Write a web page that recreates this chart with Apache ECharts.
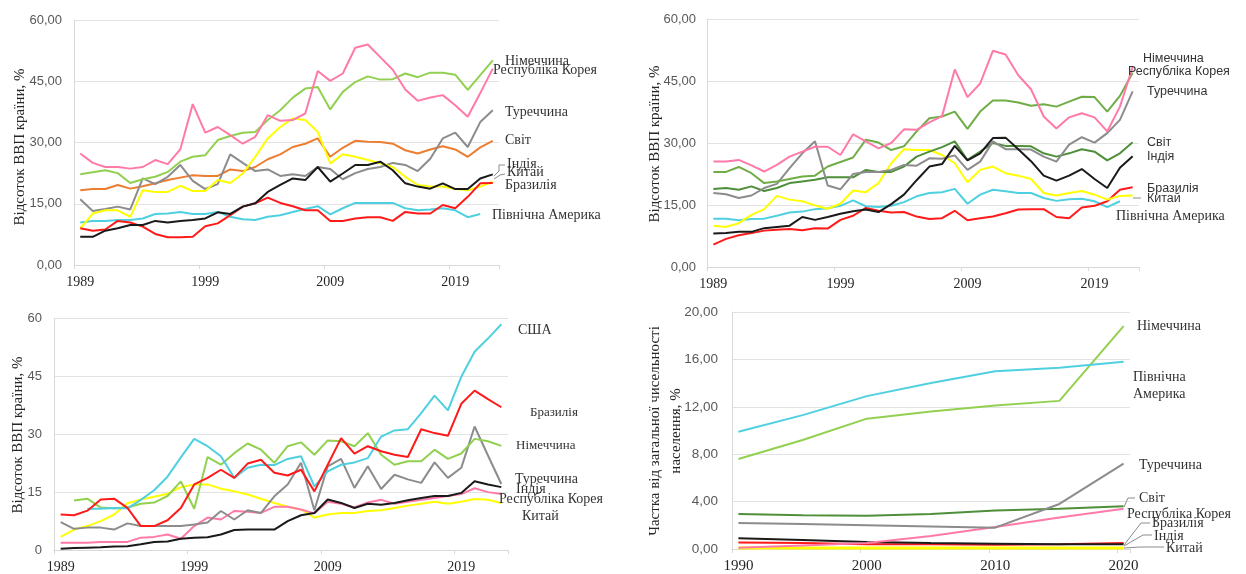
<!DOCTYPE html>
<html><head><meta charset="utf-8">
<script src="https://cdn.jsdelivr.net/npm/echarts@6/dist/echarts.min.js"></script>
<style>html,body{margin:0;padding:0;background:#fff}#c{width:1246px;height:574px}</style>
</head><body><div id="c"></div>
<script>
// ---------- categories / ticks ----------
const years = ['1989','1990','1991','1992','1993','1994','1995','1996','1997','1998','1999','2000','2001','2002','2003','2004','2005','2006','2007','2008','2009','2010','2011','2012','2013','2014','2015','2016','2017','2018','2019','2020','2021','2022'];
const brCategories = ['1990','1991','1992','1993','1994','1995','1996','1997','1998','1999','2000','2001','2002','2003','2004','2005','2006','2007','2008','2009','2010','2011','2012','2013','2014','2015','2016','2017','2018','2019','2020'];
const brPoints = ['1990','1995','2000','2005','2010','2015','2020'];

// ---------- top-left panel (exports, % GDP) ----------
const tlKorea   = [27.3,25.0,24.0,24.0,23.6,24.0,25.7,24.7,28.3,39.4, 32.4,33.8,31.8,29.7,31.4,36.7,35.3,35.5,37.1,47.5, 45.1,46.9,53.2,54.0,50.9,47.8,43.0,40.2,41.0,41.6, 39.1,36.3,42.1,48.1];
const tlGermany = [22.2,22.7,23.2,22.5,20.1,21.0,21.6,22.8,25.3,26.5, 26.9,30.6,31.6,32.4,32.6,35.5,37.9,41.0,43.2,43.6, 38.1,42.4,44.8,46.2,45.4,45.5,46.9,46.0,47.1,47.1, 46.6,42.9,46.5,50.1];
const tlTurkey  = [16.1,13.2,13.7,14.3,13.6,21.2,19.8,21.6,24.5,20.6, 18.6,19.8,27.1,25.0,23.0,23.4,21.8,22.2,21.8,24.0, 23.5,21.0,22.5,23.5,24.0,25.0,24.5,23.0,26.0,31.0, 32.4,28.9,35.0,37.9];
const tlWorld   = [18.3,18.6,18.6,19.6,18.7,19.3,20.0,20.8,21.4,22.0, 21.8,21.8,23.4,23.0,24.0,25.9,27.1,28.9,29.7,31.0, 26.5,28.7,30.4,30.2,30.1,29.7,28.1,27.3,28.3,29.1, 28.3,26.5,28.8,30.4];
const tlChina   = [9.0,12.6,13.4,13.4,11.8,18.3,17.9,17.9,19.4,18.1, 18.1,20.8,20.1,22.4,26.5,31.0,33.8,35.9,35.5,32.6, 24.9,27.1,26.5,25.7,24.9,24.0,21.6,19.6,19.2,19.2, 18.6,18.3,19.2,20.4];
const tlIndia   = [6.9,6.9,8.4,9.0,9.8,9.8,10.8,10.4,10.8,11.0, 11.4,12.9,12.5,14.3,15.1,17.9,19.6,21.2,20.8,24.0, 20.4,22.4,24.5,24.5,25.3,23.2,20.0,19.2,18.7,20.0, 18.6,18.6,21.2,22.2];
const tlBrazil  = [9.0,8.4,8.7,10.8,10.4,9.4,7.6,6.8,6.8,6.9, 9.5,10.2,12.2,14.3,15.1,16.5,15.2,14.4,13.4,13.4, 10.8,10.8,11.4,11.7,11.7,10.8,13.0,12.6,12.6,14.7, 13.9,16.7,20.0,20.1];
const tlNorthAm = [10.4,10.8,10.8,11.0,11.0,11.4,12.5,12.6,13.0,12.5, 12.5,13.0,11.8,11.2,11.0,11.8,12.2,13.0,13.7,14.4, 12.4,13.9,15.2,15.2,15.2,15.2,13.9,13.4,13.6,13.9, 13.4,11.7,12.5,null];

// ---------- top-right panel (imports, % GDP) ----------
const trKorea   = [25.5,25.5,25.9,24.6,23.1,24.7,26.7,27.9,29.1,29.1, 27.1,32.1,30.4,28.7,30.0,33.3,33.2,35.0,36.5,47.8, 41.1,44.4,52.3,51.4,46.4,43.0,36.4,33.5,36.2,37.2, 36.2,32.8,38.8,48.4];
const trGermany = [23.0,23.0,24.2,22.7,20.3,20.7,21.3,21.9,22.1,24.3, 25.4,26.5,30.8,30.1,28.3,29.2,32.8,36.0,36.4,37.6, 33.4,37.6,40.3,40.3,39.8,39.0,39.4,38.8,40.0,41.2, 41.1,37.6,41.4,47.0];
const trTurkey  = [17.9,17.6,16.7,17.3,19.1,20.1,23.9,27.5,30.4,19.7, 18.8,22.5,23.0,23.0,23.5,24.7,24.5,26.3,26.2,27.0, 23.5,25.5,30.4,28.5,28.5,28.4,26.7,25.5,29.6,31.4, 30.1,32.4,35.6,42.5];
const trWorld   = [18.9,19.1,18.7,19.5,18.4,19.1,20.3,20.7,21.1,21.7, 21.7,21.7,23.5,23.0,23.0,24.3,26.7,27.9,29.0,30.4, 25.9,27.9,30.0,29.3,29.3,29.2,27.5,26.7,27.5,28.5, 27.9,25.8,27.5,30.2];
const trIndia   = [8.1,8.2,8.5,8.5,9.4,9.7,10.0,12.1,11.4,12.1, 12.9,13.5,13.9,13.3,15.2,17.5,21.0,24.3,24.9,29.3, 25.8,27.5,31.2,31.3,28.5,25.6,22.1,20.9,22.1,23.7, 21.3,19.1,24.0,26.8];
const trChina   = [10.0,9.7,10.6,12.6,14.0,17.2,16.3,15.9,14.9,14.1, 15.3,18.5,18.1,20.3,25.1,28.5,28.3,28.3,27.1,25.1, 20.5,23.5,24.3,22.7,22.1,21.3,17.9,17.3,17.9,18.4, 17.5,16.3,17.2,17.3];
const trNorthAm = [11.7,11.7,11.3,11.6,11.7,12.4,13.2,13.4,14.0,14.2, 14.8,16.1,14.7,14.5,14.8,15.7,17.1,17.9,18.1,18.9, 15.3,17.5,18.7,18.3,17.9,17.9,16.7,16.0,16.4,16.5, 15.9,14.5,15.9,null];
const trBrazil  = [5.4,6.8,7.7,8.2,8.8,9.0,9.2,8.9,9.4,9.3, 11.4,12.4,14.3,13.6,13.2,13.3,12.2,11.6,11.8,13.6, 11.3,11.8,12.2,13.0,13.9,14.0,14.0,12.1,11.8,14.4, 14.8,15.9,18.7,19.3];

// ---------- bottom-left panel ----------
const blUSA     = [null,null,10.7,10.7,10.9,10.8,13.0,15.5,19.0,24.0, 28.8,26.9,24.3,18.7,21.3,22.1,22.0,23.6,24.3,16.5, 20.4,22.1,22.7,23.8,29.4,31.0,31.3,35.5,40.0,36.2, 44.9,51.4,54.8,58.5];
const blBrazil  = [9.2,9.0,10.2,13.1,13.3,10.9,6.2,6.2,7.7,10.9, 17.0,18.7,20.8,18.7,22.4,23.4,20.0,19.3,20.8,15.2, 22.1,29.0,25.0,26.9,25.6,24.7,24.1,31.3,30.3,29.6, 37.9,41.3,39.1,37.0];
const blGermany = [null,12.8,13.3,11.0,10.8,11.0,12.0,12.3,14.0,17.8, 10.7,24.1,22.1,25.1,27.6,26.0,22.6,26.9,27.9,24.7, 28.4,28.2,26.9,30.3,24.7,22.1,23.0,23.0,26.0,23.6, 25.0,28.8,28.2,27.0];
const blTurkey  = [7.2,5.5,5.8,5.8,5.3,6.9,6.2,6.2,6.2,6.2, 6.6,7.1,10.1,7.9,10.3,9.6,13.9,17.0,22.6,10.3, 21.7,23.6,16.1,21.7,15.8,19.5,18.3,17.4,22.7,18.7, 21.3,32.0,24.5,17.1];
const blIndia   = [0.3,0.5,0.6,0.7,0.9,1.0,1.5,2.1,2.2,2.9, 3.2,3.3,4.0,5.2,5.3,5.3,5.3,7.5,9.0,9.6, 13.1,12.2,10.9,12.0,11.7,12.2,12.9,13.5,14.0,14.0, 14.8,17.8,17.0,16.3];
const blKorea   = [1.9,1.9,1.9,2.1,2.1,2.1,3.2,3.4,4.0,2.9, 6.2,8.4,7.9,10.1,9.9,9.6,11.2,11.2,10.5,9.5, 12.5,12.0,11.0,12.3,13.0,12.0,12.5,13.0,13.5,14.0, 14.5,16.0,15.0,14.5];
const blChina   = [3.4,5.3,6.2,7.5,9.2,12.1,13.1,13.8,14.6,16.3, 17.0,17.0,15.9,15.2,14.4,13.3,12.2,11.2,10.5,8.4, 9.2,9.6,9.6,10.1,10.3,10.9,11.5,12.0,12.5,12.0, 12.5,13.2,13.0,12.2];

// ---------- bottom-right panel (share of population, %) ----------
const brGermany = [7.6,9.2,11.0,11.6,12.1,12.5,18.8];
const brNorthAm = [9.9,11.3,12.9,14.0,15.0,15.3,15.8];
const brTurkey  = [2.2,2.1,2.0,1.9,1.8,3.8,7.2];
const brWorld   = [2.95,2.85,2.8,2.95,3.25,3.4,3.6];
const brKorea   = [0.1,0.3,0.5,1.1,1.85,2.65,3.4];
const brBrazil  = [0.55,0.5,0.4,0.4,0.35,0.4,0.5];
const brIndia   = [0.9,0.75,0.6,0.5,0.45,0.4,0.4];
const brChina   = [0.08,0.08,0.08,0.08,0.08,0.08,0.08];

// ---------- styling ----------
const C = {pink:'#ff7aa8', lgreen:'#92d050', orange:'#ed7d31', gray:'#8c8c8c', yellow:'#ffff00',
  black:'#1a1a1a', red:'#ff1a1a', cyan:'#4fd0e0', mgreen:'#70ad47', dgreen:'#4f8f3a'};
const SERIF = '"Liberation Serif", "Times New Roman", serif';
const SANS = '"Liberation Sans", Arial, sans-serif';

const chart = echarts.init(document.getElementById('c'), null, {renderer:'canvas', width:1246, height:574});

const grids = [
  {left:74, top:20, width:425, height:245},
  {left:707, top:19, width:432, height:248},
  {left:54, top:318.5, width:454, height:232},
  {left:732, top:312, width:398, height:238}
];
function xCat(gi, data, size){
  return {type:'category', gridIndex:gi, data, boundaryGap:true,
    axisLine:{show:true, lineStyle:{color:'#d9d9d9'}},
    axisTick:{show:true, length:4, lineStyle:{color:'#d9d9d9'}},
    axisLabel:{interval:9, margin:10, color:'#262626', fontFamily:SERIF, fontSize:size},
    splitLine:{show:false}};
}
const comma = v => v.toFixed(2).replace('.', ',');
function yVal(gi, max, interval, fmt, margin, size){
  return {type:'value', gridIndex:gi, min:0, max, interval,
    axisLine:{show:true, lineStyle:{color:'#d9d9d9'}}, axisTick:{show:false},
    splitLine:{show:true, lineStyle:{color:'#e2e2e2', width:1}},
    axisLabel:{formatter:fmt, color:'#595959', fontFamily:SANS, fontSize:size, margin}};
}
function ln(data, color, gi, w){
  return {type:'line', xAxisIndex:gi, yAxisIndex:gi, data, symbol:'none', showSymbol:false,
    lineStyle:{color, width:w||2}, itemStyle:{color}, silent:true, connectNulls:false};
}
function brData(vals){ return vals.map((v,i)=>[brCategories.indexOf(brPoints[i]), v]); }

const series = [
  ln(tlNorthAm, C.cyan, 0), ln(tlWorld, C.orange, 0), ln(tlTurkey, C.gray, 0), ln(tlChina, C.yellow, 0),
  ln(tlBrazil, C.red, 0), ln(tlIndia, C.black, 0), ln(tlGermany, C.lgreen, 0), ln(tlKorea, C.pink, 0),

  ln(trNorthAm, C.cyan, 1), ln(trBrazil, C.red, 1), ln(trChina, C.yellow, 1), ln(trWorld, C.dgreen, 1),
  ln(trTurkey, C.gray, 1), ln(trIndia, C.black, 1), ln(trGermany, C.mgreen, 1), ln(trKorea, C.pink, 1),

  ln(blChina, C.yellow, 2), ln(blKorea, C.pink, 2), ln(blIndia, C.black, 2), ln(blTurkey, C.gray, 2),
  ln(blGermany, C.lgreen, 2), ln(blUSA, C.cyan, 2), ln(blBrazil, C.red, 2),

  ln(brData(brChina), C.yellow, 3, 3), ln(brData(brBrazil), C.red, 3), ln(brData(brIndia), C.black, 3),
  ln(brData(brKorea), C.pink, 3), ln(brData(brWorld), C.dgreen, 3), ln(brData(brTurkey), C.gray, 3),
  ln(brData(brGermany), C.lgreen, 3), ln(brData(brNorthAm), C.cyan, 3)
];

function txt(text, x, y, font, extra){
  extra = extra || {};
  return {type:'text', x, y, rotation: extra.rot || 0, z:100, silent:true,
    style:{text, font, fill: extra.fill || '#333333', align: extra.align || 'left', verticalAlign:'middle'}};
}
function pl(points){ return {type:'polyline', z:90, silent:true, shape:{points}, style:{stroke:'#8c8c8c', lineWidth:1, fill:null}}; }

const S14 = '14px ' + SERIF, S13 = '13px ' + SERIF, SA = '12.5px ' + SANS, T15 = '15px ' + SERIF;
const graphics = [
  // axis titles
  txt('Відсоток ВВП країни, %', 20, 147, T15, {rot:Math.PI/2, align:'center', fill:'#262626'}),
  txt('Відсоток ВВП країни, %', 655, 144, T15, {rot:Math.PI/2, align:'center', fill:'#262626'}),
  txt('Відсоток ВВП країни, %', 18, 435, T15, {rot:Math.PI/2, align:'center', fill:'#262626'}),
  txt('Частка від загальної чисельності', 655, 431, T15, {rot:Math.PI/2, align:'center', fill:'#262626'}),
  txt('населення, %', 676, 431, T15, {rot:Math.PI/2, align:'center', fill:'#262626'}),
  // top-left labels
  txt('Німеччина', 505, 61, S14), txt('Республіка Корея', 493, 70, S14), txt('Туреччина', 505, 112, S14),
  txt('Світ', 505, 140, S14), txt('Індія', 507, 164, S14), txt('Китай', 507, 172, S14),
  txt('Бразилія', 505, 185, S14), txt('Північна Америка', 492, 215, S14),
  pl([[494,176],[499,171],[499,165],[505,165]]), pl([[494,179],[500,175],[505,174]]),
  // top-right labels
  txt('Німеччина', 1143, 59, SA), txt('Республіка Корея', 1128, 72, SA), txt('Туреччина', 1147, 92, SA),
  txt('Світ', 1147, 143, SA), txt('Індія', 1147, 157, SA), txt('Бразилія', 1147, 189, SA),
  txt('Китай', 1147, 199, SA), txt('Північна Америка', 1116, 216, S14),
  pl([[1133,198],[1141,198]]),
  // bottom-left labels
  txt('США', 518, 330, S14), txt('Бразилія', 530, 413, S13), txt('Німеччина', 516, 446, S13),
  txt('Туреччина', 515, 479, S14), txt('Індія', 516, 489, S14), txt('Республіка Корея', 499, 499, S14),
  txt('Китай', 522, 516, S14),
  // bottom-right labels
  txt('Німеччина', 1137, 326, S14), txt('Північна', 1133, 377, S14), txt('Америка', 1133, 394, S14),
  txt('Туреччина', 1139, 465, S14), txt('Світ', 1139, 498, S14), txt('Республіка Корея', 1127, 514, S14),
  txt('Бразилія', 1152, 523, S14), txt('Індія', 1154, 536, S14), txt('Китай', 1166, 548, S14),
  pl([[1124,507],[1128,498],[1135,498]]), pl([[1124,545],[1141,523],[1150,523]]),
  pl([[1124,546],[1143,535],[1152,535]]), pl([[1124,548],[1140,547],[1164,547]])
];

chart.setOption({
  animation:false,
  backgroundColor:'#ffffff',
  grid: grids,
  xAxis: [xCat(0, years, 14), xCat(1, years, 14), xCat(2, years, 14), xCat(3, brCategories, 15)],
  yAxis: [yVal(0, 60, 15, comma, 12, 13), yVal(1, 60, 15, comma, 11, 13),
          yVal(2, 60, 15, v => String(v), 12, 13), yVal(3, 20, 4, comma, 14, 13.5)],
  series,
  graphic: graphics
});
</script></body></html>
